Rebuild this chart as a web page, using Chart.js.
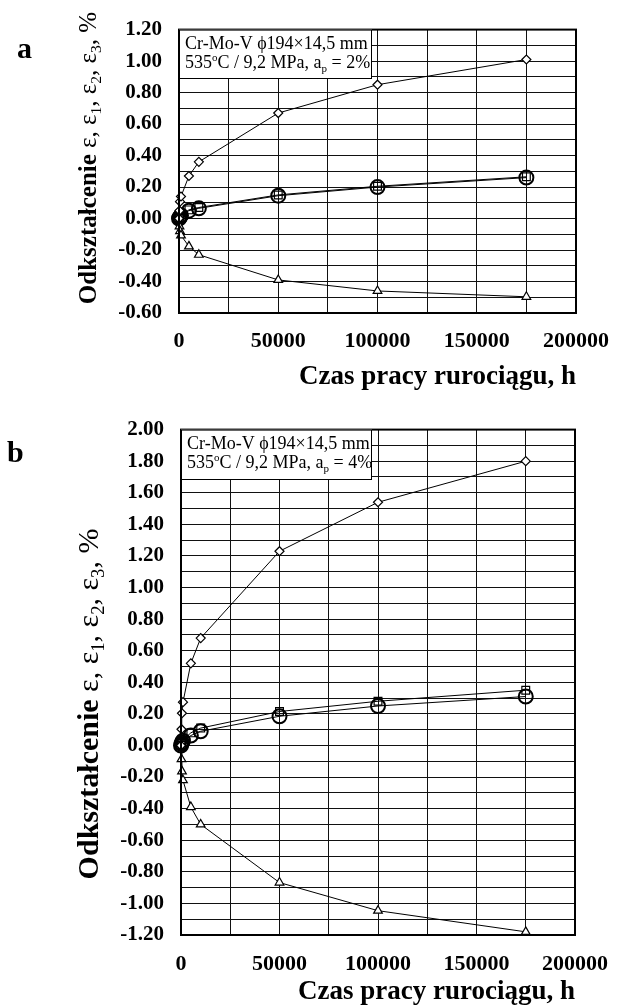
<!DOCTYPE html>
<html>
<head>
<meta charset="utf-8">
<script src="https://cdn.jsdelivr.net/npm/chart.js@4.4.1/dist/chart.umd.min.js"></script>
<style>
  html, body { margin: 0; padding: 0; background: #fff; }
  #wrapA { position: absolute; left: 0; top: 0; width: 624px; height: 400px; }
  #wrapB { position: absolute; left: 0; top: 400px; width: 624px; height: 605px; }
</style>
</head>
<body>
<div id="wrapA"><canvas id="chartA" width="624" height="400"></canvas></div>
<div id="wrapB"><canvas id="chartB" width="624" height="605"></canvas></div>
<script>
// operating time, h
const hours = [0, 250, 500, 1000, 5000, 10000, 50000, 100000, 175000];

// panel a (a_p = 2%)
const epsA  = [0, 0.05, 0.107, 0.14, 0.27, 0.36, 0.67, 0.85, 1.01];
const eps1A = [0, 0.005, 0.01, 0.02, 0.05, 0.065, 0.145, 0.20, 0.26];
const eps2A = [0, 0.006, 0.012, 0.022, 0.055, 0.07, 0.15, 0.205, 0.265];
const eps3A = [0, -0.05, -0.08, -0.107, -0.177, -0.23, -0.39, -0.46, -0.497];

// panel b (a_p = 4%)
const epsB  = [0, 0.103, 0.204, 0.274, 0.52, 0.68, 1.23, 1.54, 1.80];
const eps1B = [0, 0.01, 0.02, 0.03, 0.063, 0.09, 0.185, 0.25, 0.31];
const eps2B = [0, 0.012, 0.024, 0.035, 0.08, 0.11, 0.215, 0.28, 0.35];
const eps3B = [0, -0.087, -0.164, -0.22, -0.39, -0.50, -0.868, -1.046, -1.18];

// axes
const xGrid   = [0, 25000, 50000, 75000, 100000, 125000, 150000, 175000, 200000];
const xLabels = ['0', '', '50000', '', '100000', '', '150000', '', '200000'];
const yRangeA = [-0.6, 1.2];
const yRangeB = [-1.2, 2.0];
const yStep = 0.1;

const FONT = '"Liberation Serif", "Times New Roman", serif';

function pts(ys) {
  return hours.map((h, i) => ({ x: h, y: ys[i] }));
}

function drawYTitle(ctx, cx, cy, size) {
  const segs = [
    { t: 'Odkształcenie ', bold: true },
    { t: 'ε, ε' },
    { t: '1', sub: true },
    { t: ', ε' },
    { t: '2', sub: true },
    { t: ', ε' },
    { t: '3', sub: true },
    { t: ', %' }
  ];
  ctx.save();
  ctx.translate(cx, cy);
  ctx.rotate(-Math.PI / 2);
  ctx.fillStyle = '#000';
  ctx.textBaseline = 'alphabetic';
  ctx.textAlign = 'left';
  let total = 0;
  segs.forEach(s => {
    const fs = s.sub ? size * 0.62 : size;
    ctx.font = (s.bold ? 'bold ' : '') + fs + 'px ' + FONT;
    s.fs = fs;
    s.w = ctx.measureText(s.t).width;
    total += s.w;
  });
  let x = -total / 2;
  segs.forEach(s => {
    ctx.font = (s.bold ? 'bold ' : '') + s.fs + 'px ' + FONT;
    ctx.fillText(s.t, x, size * 0.35 + (s.sub ? size * 0.22 : 0));
    x += s.w;
  });
  ctx.restore();
}

function drawInfoBox(ctx, area, bottom, right, ap) {
  const l = area.left, t = area.top;
  ctx.save();
  ctx.fillStyle = '#fff';
  ctx.fillRect(l, t, right - l, bottom - t);
  ctx.strokeStyle = '#000';
  ctx.lineWidth = 1;
  ctx.strokeRect(l + 0.5, t + 0.5, right - l - 1, bottom - t - 1);
  ctx.fillStyle = '#000';
  ctx.textBaseline = 'alphabetic';
  ctx.textAlign = 'left';
  const fs = 18;
  const norm = fs + 'px ' + FONT;
  const small = Math.round(fs * 0.62) + 'px ' + FONT;
  const x0 = l + 6;
  const b1 = t + 19, b2 = t + 38.5;
  ctx.font = norm;
  ctx.fillText('Cr-Mo-V ϕ194×14,5 mm', x0, b1);
  let x = x0;
  const put = (txt, font, dy) => {
    ctx.font = font;
    ctx.fillText(txt, x, b2 + dy);
    x += ctx.measureText(txt).width;
  };
  put('535', norm, 0);
  put('o', small, -7);
  put('C / 9,2 MPa, a', norm, 0);
  put('p', small, 4);
  put(' = ' + ap, norm, 0);
  ctx.restore();
}

function makeChart(id, opt) {
  const ds = (label, data, style, radius, bg, bw, order) => ({
    label: label,
    data: pts(data),
    borderColor: '#000',
    borderWidth: 1,
    pointStyle: style,
    pointRadius: radius,
    pointBackgroundColor: bg,
    pointBorderColor: '#000',
    pointBorderWidth: bw,
    tension: 0,
    clip: false,
    order: order
  });

  const yGrid = [];
  for (let i = Math.round(opt.yRange[0] / yStep); i <= Math.round(opt.yRange[1] / yStep); i++) yGrid.push(i / 10);

  const decor = {
    id: 'decor' + id,
    afterDraw(chart) {
      const ctx = chart.ctx;
      const a = chart.chartArea;
      ctx.save();
      ctx.strokeStyle = '#000';
      ctx.lineWidth = 2;
      ctx.strokeRect(a.left, a.top, a.right - a.left, a.bottom - a.top);
      ctx.restore();
      drawInfoBox(ctx, a, opt.boxBottom, opt.boxRight, opt.ap);
      ctx.save();
      ctx.fillStyle = '#000';
      ctx.font = 'bold 30px ' + FONT;
      ctx.textBaseline = 'alphabetic';
      ctx.fillText(opt.letter, opt.letterX, opt.letterY);
      ctx.restore();
      drawYTitle(ctx, opt.titleX, opt.titleY, opt.titleSize);
    }
  };

  return new Chart(document.getElementById(id), {
    type: 'line',
    data: {
      datasets: [
        ds('ε', opt.e, 'rectRot', 4.5, '#fff', 1.2, 1),
        ds('ε1', opt.e1, 'circle', 7, 'rgba(0,0,0,0)', 2, 3),
        ds('ε2', opt.e2, 'rect', 5.5, 'rgba(0,0,0,0)', 1.2, 2),
        ds('ε3', opt.e3, 'triangle', 5, '#fff', 1.2, 1)
      ]
    },
    options: {
      responsive: false,
      animation: false,
      layout: { padding: { left: 0, top: opt.padTop, right: opt.padRight, bottom: 0 } },
      plugins: { legend: { display: false }, tooltip: { enabled: false } },
      scales: {
        x: {
          type: 'linear',
          min: 0,
          max: 200000,
          afterBuildTicks: s => { s.ticks = xGrid.map(v => ({ value: v })); },
          afterFit: s => { s.height = opt.xHeight; },
          grid: { color: '#111', lineWidth: 1, drawTicks: false },
          border: { display: false },
          ticks: {
            autoSkip: false,
            maxRotation: 0,
            padding: opt.xTickPad,
            color: '#000',
            font: { family: FONT, size: 22, weight: 'bold' },
            callback: (v) => xLabels[xGrid.indexOf(v)]
          },
          title: {
            display: true,
            text: 'Czas pracy rurociągu, h',
            align: 'end',
            color: '#000',
            font: { family: FONT, size: 27, weight: 'bold' },
            padding: { top: 0, bottom: opt.xTitlePad }
          }
        },
        y: {
          min: opt.yRange[0],
          max: opt.yRange[1],
          afterBuildTicks: s => { s.ticks = yGrid.map(v => ({ value: v })); },
          afterFit: s => { s.width = opt.yWidth; },
          grid: { color: '#111', lineWidth: 1, drawTicks: false },
          border: { display: false },
          ticks: {
            autoSkip: false,
            padding: 17,
            color: '#000',
            font: { family: FONT, size: 21, weight: 'bold' },
            callback: v => (Math.round(v * 10) % 2 === 0 ? v.toFixed(2) : '')
          }
        }
      }
    },
    plugins: [decor]
  });
}

makeChart('chartA', {
  e: epsA, e1: eps1A, e2: eps2A, e3: eps3A,
  yRange: yRangeA,
  padTop: 28, padRight: 36, yWidth: 179, xHeight: 87,
  xTickPad: 15, xTitlePad: 7,
  boxBottom: 79, boxRight: 372, ap: '2%',
  letter: 'a', letterX: 17, letterY: 58,
  titleX: 87, titleY: 158, titleSize: 25
});

makeChart('chartB', {
  e: epsB, e1: eps1B, e2: eps2B, e3: eps3B,
  yRange: yRangeB,
  padTop: 29, padRight: 38, yWidth: 181, xHeight: 70,
  xTickPad: 16, xTitlePad: -3,
  boxBottom: 80, boxRight: 372, ap: '4%',
  letter: 'b', letterX: 7, letterY: 62,
  titleX: 87, titleY: 304, titleSize: 30
});
</script>
</body>
</html>
